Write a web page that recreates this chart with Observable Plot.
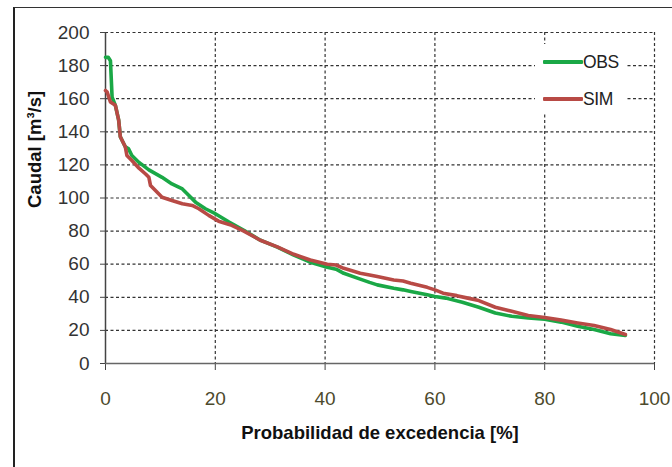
<!DOCTYPE html>
<html>
<head>
<meta charset="utf-8">
<script src="https://cdn.jsdelivr.net/npm/d3@7"></script>
<script src="https://cdn.jsdelivr.net/npm/@observablehq/plot@0.6"></script>
<style>
  html, body { margin: 0; padding: 0; background: #fff; }
  #wrap { position: relative; width: 672px; height: 467px; overflow: hidden; font-family: "Liberation Sans", Arial, sans-serif; }
  #frame { position: absolute; left: 13px; top: 7px; width: 700px; height: 500px; border-left: 2px solid #222; border-top: 1.5px solid #333; box-sizing: border-box; pointer-events: none; }
  #legend { position: absolute; left: 535px; top: 44px; width: 92px; height: 70px; background: #fff; }
  .lg-row { position: absolute; left: 8px; height: 20px; display: flex; align-items: center; }
  .lg-line { width: 40px; height: 4px; border-radius: 1px; }
  .lg-text { font-size: 17.5px; color: #222; letter-spacing: -0.4px; margin-left: 0px; }
</style>
</head>
<body>
<div id="wrap">
  <div id="chart"></div>
  <div id="frame"></div>
  <div id="legend"></div>
</div>
<script>
// ---- data ----
const seriesNames = ["OBS", "SIM"];
const seriesColors = ["#1aa846", "#b84a45"];

const obsX = [0, 0.5, 0.9, 1.2, 1.8, 2.4, 2.7, 3.6, 4.2, 4.8, 6.1, 7.9, 10.3, 12.1, 14.0, 15.2, 16.4, 18.2, 20.0, 22.5, 25.2, 28.2, 31.3, 34.3, 37.3, 40.4, 42.0, 43.4, 46.4, 48.1, 49.5, 52.5, 54.2, 55.6, 58.6, 60.0, 62.0, 65.0, 68.0, 71.0, 74.0, 77.0, 80.0, 83.0, 86.0, 89.0, 92.0, 94.7];
const obsY = [185, 185, 183, 161, 156, 147, 137, 131, 129.7, 125.7, 121.5, 117, 112.5, 108.5, 105.5, 101.5, 97.5, 93.5, 90.5, 85.5, 80.5, 74.5, 70.3, 65.5, 61.2, 58.2, 57, 54.5, 51, 49, 47.5, 45.5, 44.5, 43.5, 41.5, 40.5, 39.5, 37, 34, 30.5, 28.5, 27.5, 26.8, 25, 22.5, 20.5, 18, 17];

const simX = [0, 0.3, 0.9, 1.8, 2.4, 2.7, 3.6, 3.9, 4.8, 6.1, 7.3, 7.9, 8.2, 9.1, 10.3, 12.1, 14.0, 15.8, 17.0, 18.8, 20.6, 23.0, 25.2, 28.2, 31.3, 34.3, 37.3, 40.4, 42.0, 43.4, 46.4, 48.1, 49.5, 52.5, 54.2, 55.6, 58.6, 60.0, 61.5, 64.0, 66.0, 68.0, 71.0, 74.0, 77.0, 80.0, 83.0, 86.0, 89.0, 92.0, 94.7];
const simY = [165, 164, 158, 156, 147, 137, 131, 125.7, 122.6, 118, 114.5, 112.5, 107.5, 104.5, 100.5, 98.5, 96.5, 95.5, 93.5, 89.5, 86, 83.5, 80, 74.5, 70.5, 66, 62.5, 60, 59.5, 57.5, 54.5, 53.5, 52.5, 50.5, 49.8, 48.5, 46, 44.5, 42.5, 41, 39.5, 38, 34, 31.5, 29, 27.8, 26.2, 24.5, 23, 20.5, 17.5];

const xTicks = [0, 20, 40, 60, 80, 100];
const yTicks = [0, 20, 40, 60, 80, 100, 120, 140, 160, 180, 200];
const xTitle = "Probabilidad de excedencia [%]";
const yTitle = "Caudal [m³/s]";

// ---- build tidy table ----
const rows = [
  ...obsX.map((x, i) => ({series: "OBS", x, y: obsY[i]})),
  ...simX.map((x, i) => ({series: "SIM", x, y: simY[i]}))
];

const fontFamily = "Liberation Sans, Arial, sans-serif";

const chart = Plot.plot({
  width: 672,
  height: 467,
  marginLeft: 105,
  marginRight: 18,
  marginTop: 32,
  marginBottom: 104,
  style: {fontFamily, background: "transparent", overflow: "visible"},
  x: {domain: [0, 100], ticks: xTicks},
  y: {domain: [0, 200], ticks: yTicks},
  color: {domain: seriesNames, range: seriesColors},
  marks: [
    Plot.gridX(xTicks.filter(d => d > 0), {stroke: "#333", strokeOpacity: 1, strokeWidth: 1.2, strokeDasharray: "3,2.5"}),
    Plot.gridY(yTicks.filter(d => d > 0), {stroke: "#333", strokeOpacity: 1, strokeWidth: 1.2, strokeDasharray: "3,2.5"}),
    Plot.axisY(yTicks, {tickSize: 5, tickPadding: 11, fontSize: 19, stroke: "#444", fill: "#333", label: null}),
    Plot.axisX(xTicks, {tickSize: 7, tickPadding: 21, fontSize: 19, stroke: "#444", fill: "#4d4a2c", label: null}),
    Plot.ruleX([0], {stroke: "#444", strokeWidth: 1.5}),
    Plot.ruleY([0], {stroke: "#666", strokeWidth: 1.5}),
    Plot.line(rows, {x: "x", y: "y", z: "series", stroke: "series", strokeWidth: 3.6, strokeLinejoin: "round", strokeLinecap: "round"}),
    Plot.text([yTitle], {frameAnchor: "left", dx: -70, dy: 10, rotate: -90, fontWeight: "bold", fontSize: 18.5, fill: "#111"}),
    Plot.text([xTitle], {frameAnchor: "bottom", dy: 75, fontWeight: "bold", fontSize: 18.5, fill: "#111"})
  ]
});
document.getElementById("chart").appendChild(chart);

// ---- legend ----
const legend = document.getElementById("legend");
seriesNames.forEach((name, i) => {
  const row = document.createElement("div");
  row.className = "lg-row";
  row.style.top = (8 + i * 37) + "px";
  const ln = document.createElement("div");
  ln.className = "lg-line";
  ln.style.background = seriesColors[i];
  const tx = document.createElement("span");
  tx.className = "lg-text";
  tx.textContent = name;
  row.appendChild(ln);
  row.appendChild(tx);
  legend.appendChild(row);
});
</script>
</body>
</html>
